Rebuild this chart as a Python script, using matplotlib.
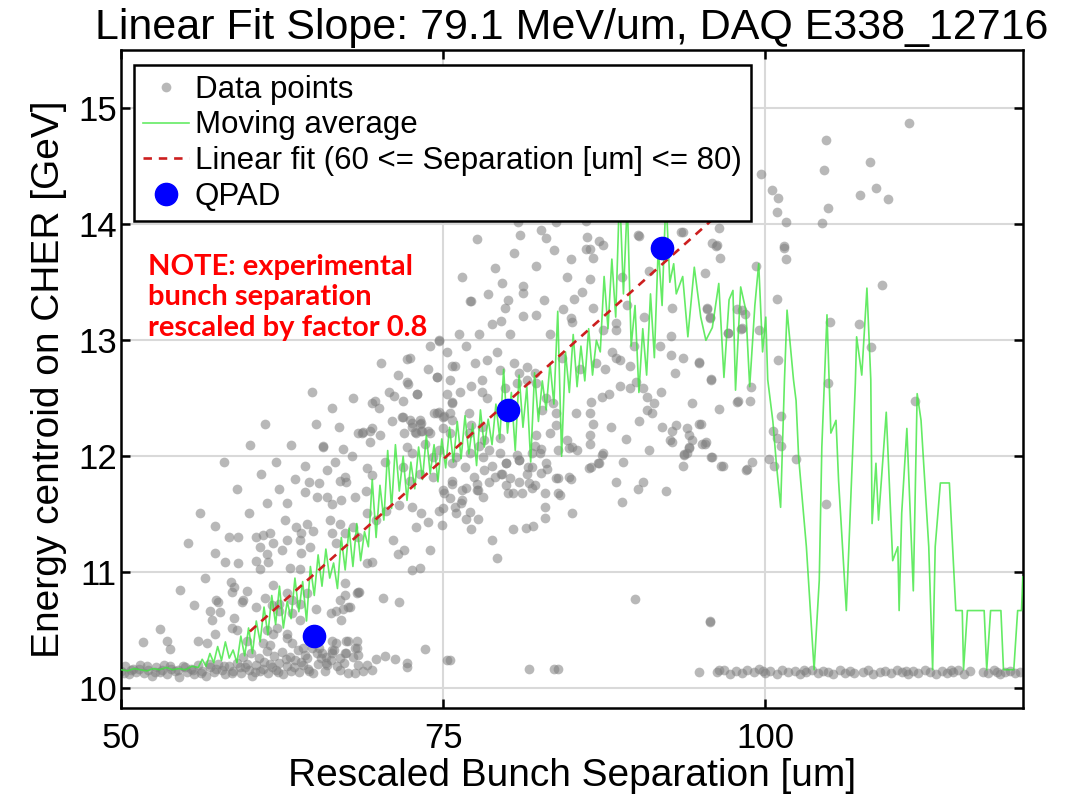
import numpy as np
import matplotlib
matplotlib.use("Agg")
import matplotlib.pyplot as plt

# ---- data (x = rescaled separation [um], y = energy [GeV]) ----

BAND_LEFT = [
    (50.0, 10.15), (50.3, 10.19), (50.6, 10.12), (50.9, 10.17), (51.2, 10.14), (51.5, 10.20),
    (51.8, 10.13), (52.1, 10.16), (52.4, 10.11), (52.7, 10.18), (53.0, 10.14), (53.3, 10.20),
    (53.6, 10.12), (53.9, 10.17), (54.2, 10.15), (54.5, 10.10), (54.8, 10.19), (55.1, 10.14),
    (55.4, 10.17), (55.7, 10.12), (56.0, 10.20), (56.3, 10.15), (56.6, 10.11), (56.9, 10.18),
    (57.2, 10.14), (57.5, 10.21), (57.8, 10.16), (58.1, 10.12), (58.4, 10.19), (58.7, 10.15),
    (59.0, 10.22), (59.3, 10.13), (59.6, 10.18), (59.9, 10.16), (60.2, 10.11), (60.5, 10.20),
    (60.8, 10.15), (61.1, 10.23), (61.4, 10.13), (61.7, 10.18), (62.0, 10.16), (62.3, 10.22),
    (62.6, 10.12), (62.9, 10.19), (63.2, 10.15), (63.5, 10.24), (63.8, 10.14), (64.1, 10.20),
    (64.5, 10.17), (64.9, 10.13), (65.3, 10.21), (65.8, 10.15), (66.3, 10.24), (66.8, 10.19),
    (67.3, 10.22), (68.0, 10.27), (68.8, 10.15), (69.5, 10.16),
    (50.2, 10.13), (50.8, 10.16), (51.4, 10.17), (52.0, 10.19), (52.6, 10.14), (53.2, 10.16),
    (53.8, 10.19), (54.4, 10.16), (55.0, 10.18), (55.6, 10.16), (56.2, 10.13), (56.8, 10.21),
    (57.4, 10.17), (58.0, 10.19), (58.6, 10.13), (59.2, 10.18), (59.8, 10.21), (60.4, 10.14),
    (61.0, 10.17), (61.6, 10.21), (62.2, 10.14), (62.8, 10.25), (63.4, 10.18), (64.0, 10.23),
    (64.6, 10.15), (65.5, 10.26), (66.0, 10.20), (67.0, 10.26), (68.4, 10.29), (69.8, 10.25),
    (70.5, 10.28), (71.3, 10.25),
    (59.5, 10.27), (60.1, 10.30), (60.7, 10.26), (61.3, 10.32), (61.9, 10.28), (62.5, 10.31),
    (63.1, 10.27), (63.7, 10.33), (64.3, 10.29), (64.8, 10.35), (65.6, 10.30), (66.5, 10.33),
    (67.4, 10.30), (68.2, 10.35),
]

RISE_LOW = [
    (53.0, 10.51), (51.7, 10.40), (53.6, 10.41), (53.8, 10.34), (55.7, 10.72), (56.0, 10.41),
    (56.7, 10.39), (57.3, 10.47), (59.0, 10.50), (59.8, 10.41), (61.3, 10.50), (61.8, 10.47),
    (61.0, 10.39), (62.9, 10.47), (63.3, 10.39), (64.1, 10.35), (65.4, 10.35), (66.4, 10.41),
    (67.5, 10.41), (68.3, 10.41), (66.4, 10.30), (67.5, 10.30), (65.9, 10.22), (73.6, 10.34),
    (72.2, 10.22), (72.2, 10.18), (67.6, 10.13), (68.4, 10.20), (69.1, 10.20), (75.3, 10.24),
    (57.4, 10.76), (57.7, 10.66), (56.9, 10.67), (57.1, 10.59), (58.6, 10.83), (58.8, 10.87),
    (59.5, 10.76), (59.8, 10.84), (57.5, 10.74), (58.5, 10.92), (59.4, 10.74), (58.8, 10.61),
    (58.6, 10.52), (61.8, 10.89), (62.3, 10.73), (63.3, 10.65), (63.9, 10.59), (62.9, 10.82),
    (63.3, 10.76), (61.2, 10.78), (61.7, 10.72), (62.3, 10.67), (60.5, 10.70), (62.9, 10.43),
    (62.1, 10.52), (61.6, 10.37), (63.9, 10.73), (64.4, 10.82), (65.1, 10.68), (66.3, 10.65),
    (67.1, 10.59), (67.2, 10.68), (67.4, 10.80), (67.8, 10.70), (68.3, 10.82), (68.5, 10.83),
    (70.3, 10.78), (71.6, 10.74), (67.4, 10.91), (67.0, 10.76), (67.6, 10.70), (66.7, 10.67),
    (67.6, 10.41), (68.3, 10.35), (66.7, 10.39), (66.4, 10.33), (65.9, 10.27), (65.2, 10.30),
    (64.4, 10.26), (67.0, 10.16), (68.2, 10.13),
]

RISE_MID = [
    (58.1, 11.09), (59.1, 11.08), (60.5, 11.10), (61.3, 11.16), (61.4, 11.09), (63.1, 11.04),
    (63.9, 11.03), (60.8, 11.03), (57.3, 11.17), (58.4, 11.30), (59.1, 11.30), (60.5, 11.30),
    (61.0, 11.32), (61.6, 11.34), (60.8, 11.22), (61.8, 11.25), (62.5, 11.19), (62.9, 11.28),
    (63.9, 11.28), (64.7, 11.22), (64.0, 11.17), (62.7, 11.45), (63.6, 11.39), (64.0, 11.34),
    (64.4, 11.42), (64.9, 11.36), (56.1, 11.51), (59.9, 11.51), (61.3, 11.60), (62.9, 11.60),
    (65.2, 11.65), (66.0, 11.65), (66.4, 11.59), (67.1, 11.62), (64.3, 11.69), (65.4, 11.77),
    (64.6, 11.78), (67.0, 11.79), (67.5, 11.78), (67.4, 11.82), (69.1, 11.90), (69.5, 11.84),
    (64.3, 11.92), (66.0, 11.88), (66.6, 11.95), (65.7, 12.08), (67.2, 12.06), (67.9, 12.00),
    (68.7, 12.20), (69.3, 12.22), (70.1, 12.18), (66.4, 12.42), (65.1, 12.28), (69.5, 12.46),
    (71.0, 12.30), (71.8, 12.34), (72.6, 12.25), (73.2, 12.28), (73.8, 12.22), (74.5, 12.37),
    (75.0, 12.34), (67.0, 11.42), (67.4, 11.34), (68.0, 11.39), (68.4, 11.30), (66.2, 11.45),
    (66.4, 11.34), (66.7, 11.25), (69.1, 11.51), (69.8, 11.45), (70.6, 11.53), (71.6, 11.58),
    (72.6, 11.56), (73.3, 11.51), (72.9, 11.39), (73.8, 11.43), (74.7, 11.53), (71.1, 11.28),
    (71.5, 11.16), (72.0, 11.19), (72.6, 11.02), (73.2, 11.04), (74.0, 11.19), (69.1, 11.08),
    (69.5, 11.09), (68.4, 10.83), (74.7, 12.99), (75.3, 12.90), (72.2, 12.84), (72.4, 12.85),
    (75.7, 12.78), (74.5, 12.68), (72.3, 12.62), (73.0, 12.54), (71.2, 12.52), (69.7, 12.48),
    (70.0, 12.42), (71.9, 12.34), (72.6, 12.29), (73.3, 12.29), (74.3, 12.37), (75.1, 12.35),
    (75.7, 12.47), (75.7, 12.31), (69.5, 12.24), (68.4, 12.20), (68.8, 12.21), (72.8, 12.21),
    (73.3, 12.22), (74.0, 12.20), (75.0, 12.24), (75.5, 12.20), (65.7, 12.09), (69.3, 12.12),
    (62.0, 11.95), (63.2, 12.10), (64.8, 12.55), (66.9, 12.25), (68.0, 12.50), (63.5, 11.80),
    (62.3, 11.72), (60.9, 11.85), (59.0, 11.72), (58.0, 11.95), (57.3, 11.40), (56.5, 10.95),
    (55.2, 11.25), (54.6, 10.85), (60.0, 12.10), (61.2, 12.28), (68.2, 11.65), (69.0, 11.70),
    (70.5, 11.95), (70.8, 12.55), (71.5, 12.70), (70.2, 12.80), (73.8, 12.75), (74.0, 12.95),
]

RISE_UPPER = [
    (77.6, 13.87), (81.0, 13.91), (83.0, 13.88), (83.6, 13.78), (86.2, 13.89), (87.1, 13.86),
    (86.4, 13.79), (86.6, 13.71), (80.5, 13.75), (82.2, 13.64), (84.6, 13.55), (86.4, 13.53),
    (77.2, 13.34), (79.6, 13.49), (81.2, 13.47), (81.2, 13.41), (80.0, 13.35), (79.8, 13.28),
    (85.2, 13.36), (84.3, 13.27), (86.6, 13.28), (82.2, 13.22), (81.2, 13.21), (78.8, 13.14),
    (79.5, 13.17), (84.9, 13.19), (85.0, 13.16), (90.1, 13.91), (93.6, 13.93), (96.3, 13.82),
    (95.9, 13.84), (96.5, 13.71), (95.3, 13.58), (92.8, 13.28), (95.5, 13.28), (95.7, 13.19),
    (98.2, 13.26), (98.1, 13.10), (97.1, 13.06), (88.4, 13.15), (88.4, 13.09), (87.4, 13.09),
    (92.7, 13.04), (88.1, 12.90), (88.7, 12.83), (89.5, 12.78), (88.4, 12.85), (92.7, 12.87),
    (93.6, 12.85), (93.0, 12.72), (94.9, 12.80), (95.8, 12.67), (96.4, 12.41), (97.8, 12.47),
    (94.3, 12.46), (90.8, 12.40), (91.2, 12.37), (91.4, 12.46), (92.0, 12.25), (92.8, 12.22),
    (93.1, 12.27), (92.6, 12.14), (93.9, 12.24), (94.9, 12.28), (94.1, 12.18), (94.3, 12.14),
    (94.1, 12.07), (95.4, 12.12), (93.7, 12.01), (93.6, 11.92), (93.9, 12.03), (95.8, 11.99),
    (96.6, 11.92), (89.5, 12.59), (90.8, 12.51), (90.0, 12.64), (88.7, 12.61), (90.5, 12.59),
    (91.9, 12.55), (86.5, 12.47), (87.3, 12.51), (87.9, 12.54), (85.3, 12.37), (86.4, 12.37),
    (86.6, 12.28), (86.4, 12.18), (86.4, 12.11), (87.3, 12.01), (87.1, 11.94), (85.0, 12.08),
    (85.4, 12.05), (86.5, 11.91), (83.8, 12.27), (83.3, 12.20), (84.6, 12.14), (83.9, 12.05),
    (84.8, 12.07), (82.7, 12.40), (83.0, 12.50), (83.5, 12.46), (83.8, 12.37), (82.2, 12.18),
    (82.1, 12.09), (81.9, 12.03), (82.5, 12.03), (81.6, 11.91), (81.5, 12.77), (81.5, 12.66),
    (82.1, 12.72), (82.2, 12.63), (80.9, 12.72), (79.4, 12.74), (79.8, 12.59), (80.5, 12.80),
    (80.7, 12.63), (78.4, 12.83), (78.0, 12.66), (77.2, 12.61), (78.0, 12.55), (78.4, 12.50),
    (75.9, 12.78), (75.5, 12.66), (75.3, 12.54), (75.7, 12.46), (74.7, 12.38), (75.5, 12.37),
    (74.5, 12.68), (74.7, 13.00), (72.2, 12.64), (73.0, 12.54), (71.9, 12.48), (77.0, 12.37),
    (77.2, 12.27), (78.0, 12.25), (77.0, 12.20), (78.2, 12.14), (79.4, 12.16), (78.6, 12.05),
    (77.8, 12.09), (77.1, 12.03), (78.1, 11.99), (79.4, 12.03), (79.9, 11.94), (79.6, 11.85),
    (79.0, 11.82), (80.2, 11.81), (80.9, 11.78), (80.4, 11.68), (78.1, 11.65), (77.4, 11.82),
    (76.7, 11.91), (75.7, 11.94), (76.0, 11.99), (74.7, 12.05), (74.2, 11.99), (73.6, 12.11),
    (72.9, 12.20), (73.4, 12.22), (73.2, 12.31), (72.4, 12.31), (72.0, 12.20), (72.2, 12.08),
    (72.6, 12.03), (71.9, 11.91), (72.4, 11.79), (73.2, 11.85), (74.2, 11.82), (75.0, 11.71),
    (75.7, 11.79), (76.8, 11.73), (77.6, 11.71), (81.5, 11.85), (80.9, 11.97), (81.9, 11.91),
    (83.0, 11.94), (83.8, 11.81), (84.8, 11.82), (83.9, 11.68), (82.9, 11.68), (81.9, 11.73),
    (83.8, 14.02), (86.1, 14.03), (77.1, 13.34), (87.4, 13.82), (86.1, 13.79), (90.2, 13.90),
    (93.5, 13.93), (96.4, 13.97), (96.2, 13.81),
    (76.2, 13.05), (76.8, 12.95), (77.8, 13.05), (78.5, 13.40), (76.5, 13.55), (79.0, 13.62),
    (80.8, 14.02), (82.6, 13.95), (84.9, 13.70), (85.8, 13.42), (88.9, 13.55), (89.3, 13.30),
    (91.0, 13.60), (90.6, 13.20), (91.8, 12.95), (89.8, 12.95), (87.6, 12.75), (84.2, 12.85),
    (85.6, 12.75), (86.9, 12.80), (83.3, 13.05), (82.8, 13.35), (80.2, 13.05), (79.2, 12.90),
    (77.5, 12.80), (76.3, 12.55), (88.0, 12.25), (89.2, 12.15), (90.2, 12.30), (91.0, 12.05),
    (89.0, 11.95),
]

LOWER_MID = [
    (75.5, 10.24), (81.7, 10.17), (83.9, 10.17), (83.6, 10.17), (89.9, 10.77), (95.7, 10.57),
    (94.9, 10.14), (78.8, 11.28), (79.2, 11.12), (77.2, 11.37), (76.8, 11.46), (77.7, 11.46),
    (77.1, 11.52), (76.0, 11.51), (75.9, 11.56), (76.5, 11.62), (75.0, 11.55), (74.9, 11.41),
    (75.5, 11.64), (80.4, 11.37), (81.4, 11.38), (82.0, 11.40), (82.9, 11.47), (82.9, 11.56),
    (85.0, 11.51), (88.9, 11.61), (88.4, 11.78), (90.1, 11.72), (90.5, 11.78), (92.3, 11.70),
    (92.8, 12.12), (94.1, 12.08), (95.1, 12.11), (93.7, 12.02), (95.9, 11.99), (96.7, 11.92),
    (98.5, 11.88), (99.0, 11.95), (100.3, 11.98), (100.7, 11.92), (83.9, 11.81), (84.9, 11.80),
    (84.1, 11.67), (82.6, 11.86), (83.1, 11.89), (86.3, 11.90), (87.0, 11.94), (87.4, 12.03),
    (78.2, 11.88), (78.8, 11.92), (79.9, 11.94), (79.5, 11.85), (79.9, 11.75), (78.6, 11.78),
    (80.0, 11.68), (81.1, 11.68), (81.7, 11.77), (82.1, 11.75), (80.9, 11.97), (80.7, 12.01),
    (82.6, 12.06), (77.6, 11.76), (77.7, 11.71), (76.5, 11.71), (75.7, 11.76), (75.1, 11.68),
    (76.4, 11.60),
]

TAIL_UPPER = [
    (111.2, 14.87), (104.7, 14.73), (104.6, 14.47), (104.9, 14.14), (104.4, 14.01), (108.1, 14.54),
    (107.4, 14.25), (108.6, 14.31), (109.5, 14.22), (99.7, 14.43), (100.5, 14.30), (101.0, 14.23),
    (100.9, 14.11), (101.6, 14.02), (101.5, 13.81), (101.6, 13.70), (109.1, 13.48), (99.3, 13.64),
    (100.9, 13.36), (105.0, 13.16), (107.3, 13.14), (108.2, 12.94), (101.0, 12.83), (104.9, 12.63),
    (95.5, 13.27), (95.7, 13.20), (97.8, 13.27), (98.4, 13.23), (98.2, 13.11), (97.1, 13.06),
    (99.5, 13.09), (95.8, 12.66), (94.9, 12.81), (98.9, 12.60), (97.9, 12.48), (98.8, 12.48),
    (95.0, 12.28), (95.3, 12.11), (98.6, 11.89), (102.4, 11.98), (101.2, 12.35), (104.7, 11.59),
    (111.6, 12.48), (100.6, 12.22), (100.9, 12.16), (101.2, 12.09), (95.7, 10.58), (101.5, 13.80),
]

BAND_RIGHT = [
    (96.3, 10.14), (96.8, 10.16), (97.3, 10.12), (97.7, 10.15), (98.2, 10.13), (98.6, 10.16),
    (99.1, 10.14), (99.5, 10.17), (100.0, 10.13), (100.4, 10.15), (100.9, 10.12), (101.3, 10.16),
    (101.8, 10.14), (102.3, 10.15), (102.7, 10.12), (103.2, 10.14), (103.6, 10.16), (104.1, 10.13),
    (104.5, 10.15), (104.9, 10.14), (105.3, 10.12), (105.8, 10.16), (106.2, 10.13), (106.6, 10.15),
    (107.6, 10.14), (108.0, 10.16), (108.4, 10.12), (108.9, 10.14), (109.3, 10.15), (109.8, 10.13),
    (110.2, 10.16), (110.6, 10.14), (111.1, 10.12), (111.5, 10.15), (111.9, 10.13), (112.4, 10.16),
    (112.8, 10.14), (113.3, 10.12), (113.7, 10.15), (114.1, 10.13), (114.6, 10.14), (115.0, 10.16),
    (115.4, 10.12), (115.9, 10.15), (116.9, 10.14), (117.3, 10.13), (117.8, 10.16), (118.2, 10.12),
    (118.6, 10.14), (119.0, 10.15), (119.4, 10.13), (119.8, 10.14), (96.4, 10.16), (99.8, 10.15),
    (103.0, 10.16), (106.9, 10.13), (110.9, 10.15), (114.4, 10.16), (118.0, 10.14),
]

MOVING_AVG = [
    (50.0, 10.16), (50.5, 10.15), (51.0, 10.17), (51.5, 10.16), (52.0, 10.15), (52.5, 10.17),
    (53.0, 10.16), (53.5, 10.18), (54.0, 10.16), (54.5, 10.17), (55.0, 10.16), (55.5, 10.19),
    (56.0, 10.18), (56.3, 10.25), (56.6, 10.19), (56.9, 10.30), (57.2, 10.22), (57.5, 10.36),
    (57.8, 10.24), (58.1, 10.40), (58.4, 10.26), (58.7, 10.33), (59.0, 10.22), (59.3, 10.45),
    (59.6, 10.28), (59.9, 10.52), (60.2, 10.30), (60.5, 10.58), (60.8, 10.40), (61.1, 10.70),
    (61.4, 10.46), (61.7, 10.80), (62.0, 10.55), (62.3, 10.88), (62.6, 10.52), (62.9, 10.75),
    (63.2, 10.60), (63.5, 10.95), (63.8, 10.66), (64.1, 10.92), (64.4, 10.58), (64.7, 11.05),
    (65.0, 10.80), (65.3, 11.15), (65.6, 10.88), (65.9, 11.20), (66.2, 10.95), (66.5, 11.08),
    (66.8, 10.86), (67.1, 11.30), (67.4, 11.02), (67.7, 11.38), (68.0, 11.05), (68.3, 11.42),
    (68.6, 11.10), (68.9, 11.35), (69.2, 11.22), (69.5, 11.80), (69.8, 11.30), (70.1, 11.75),
    (70.4, 11.45), (70.7, 12.05), (71.0, 11.55), (71.3, 12.10), (71.6, 11.70), (71.9, 12.00),
    (72.2, 11.62), (72.5, 11.95), (72.8, 11.72), (73.1, 12.08), (73.4, 11.80), (73.7, 12.18),
    (74.0, 11.85), (74.3, 12.10), (74.6, 11.78), (74.9, 12.15), (75.2, 11.90), (75.5, 12.25),
    (75.8, 11.95), (76.1, 12.30), (76.4, 11.98), (76.7, 12.35), (77.0, 12.02), (77.3, 12.28),
    (77.6, 11.92), (77.9, 12.40), (78.2, 12.08), (78.5, 12.32), (78.8, 12.10), (79.1, 12.45),
    (79.4, 12.15), (79.7, 12.75), (80.0, 12.20), (80.3, 12.55), (80.6, 12.05), (80.9, 12.70),
    (81.2, 12.25), (81.5, 12.60), (81.8, 11.95), (82.1, 12.72), (82.4, 12.30), (82.7, 12.65),
    (83.0, 12.40), (83.3, 12.80), (83.6, 12.45), (83.9, 13.25), (84.2, 12.00), (84.5, 12.90),
    (84.8, 12.55), (85.1, 13.05), (85.4, 12.60), (85.7, 12.95), (86.0, 12.65), (86.3, 13.10),
    (86.6, 12.70), (86.9, 13.00), (87.2, 12.90), (87.5, 13.55), (87.8, 13.10), (88.1, 13.70),
    (88.4, 13.20), (88.7, 14.30), (89.0, 13.40), (89.3, 14.20), (89.6, 12.95), (89.9, 13.30),
    (90.2, 12.55), (90.5, 13.10), (90.8, 12.70), (91.1, 13.40), (91.4, 12.85), (91.7, 13.80),
    (92.0, 13.30), (92.3, 14.25), (92.6, 13.50), (92.9, 13.66), (93.1, 13.40), (93.6, 13.55),
    (94.0, 13.03), (94.5, 13.63), (95.0, 13.20), (95.4, 13.00), (95.9, 13.11), (96.4, 13.49),
    (96.8, 12.68), (97.2, 13.35), (97.5, 13.43), (97.7, 12.57), (98.1, 13.46), (98.5, 13.26),
    (98.8, 12.60), (99.2, 13.30), (99.5, 13.66), (99.8, 12.90), (100.05, 13.20), (100.2, 12.66),
    (100.6, 12.30), (100.9, 11.90), (101.2, 11.56), (101.5, 12.66), (101.7, 13.26), (102.2, 12.66),
    (102.4, 12.48), (102.6, 11.99), (103.2, 11.22), (103.8, 10.16), (104.2, 10.93), (104.4, 12.08),
    (104.8, 13.22), (105.1, 12.20), (105.5, 12.31), (105.7, 11.79), (106.3, 10.67), (106.5, 11.22),
    (107.0, 12.63), (107.1, 13.03), (107.5, 12.70), (107.9, 13.45), (108.2, 12.66), (108.3, 11.42),
    (108.6, 11.94), (108.8, 11.45), (109.4, 12.38), (109.9, 11.10), (110.3, 11.22), (110.4, 10.67),
    (110.6, 11.51), (111.0, 12.24), (111.5, 10.84), (111.8, 12.54), (112.1, 12.31), (112.7, 11.22),
    (113.0, 10.16), (113.2, 11.22), (113.6, 11.77), (114.3, 11.77), (114.8, 10.67), (115.3, 10.67),
    (115.4, 10.16), (115.7, 10.67), (117.0, 10.67), (117.2, 10.16), (117.5, 10.67), (118.3, 10.67),
    (118.5, 10.16), (119.3, 10.16), (119.6, 10.67), (119.9, 10.67), (120.0, 10.96),
]

FIT_X = [60.0, 96.5]
FIT_Y = [10.49, 14.10]

QPAD_X = [65.0, 80.0, 92.0]
QPAD_Y = [10.45, 12.40, 13.80]

XTICKS = [50, 75, 100]
YTICKS = [10, 11, 12, 13, 14, 15]

TITLE = "Linear Fit Slope: 79.1 MeV/um, DAQ E338_12716"
NOTE = "NOTE: experimental\nbunch separation\nrescaled by factor 0.8"

# ---- plotting ----
plt.rcParams.update({
    "font.family": ["Liberation Sans", "DejaVu Sans"],
    "axes.linewidth": 1.8,
})

fig = plt.figure(figsize=(10.71, 8.05), dpi=100)
ax = fig.add_axes([0.113, 0.1205, 0.842, 0.817])

pts = np.array(BAND_LEFT + RISE_LOW + RISE_MID + RISE_UPPER + LOWER_MID + TAIL_UPPER + BAND_RIGHT)
ma = np.array(MOVING_AVG)

ax.plot(pts[:, 0], pts[:, 1], "o", ls="", color="#7f7f7f", alpha=0.55, ms=7.0,
        mec="none", zorder=2, label="Data points")
ax.plot(ma[:, 0], ma[:, 1], color="#3ee63e", alpha=0.8, lw=1.2, zorder=3,
        label="Moving average")
ax.plot(FIT_X, FIT_Y, ls=(0, (3.2, 2.6)), color="#cc1f1f", lw=1.9, zorder=4,
        label="Linear fit (60 <= Separation [um] <= 80)")
ax.plot(QPAD_X, QPAD_Y, "o", ls="", color="#0000ff", ms=16, zorder=5, label="QPAD")

ax.set_xlim(50, 120)
ax.set_ylim(9.83, 15.5)
ax.set_xticks(XTICKS)
ax.set_yticks(YTICKS)
ax.grid(True, color="#d9d9d9", lw=1.5)
ax.set_axisbelow(True)
ax.tick_params(direction="in", length=6.5, width=1.8, top=True, right=True, labelsize=25)
ax.tick_params(axis="x", pad=10)
ax.tick_params(axis="y", pad=3)

ax.set_xlabel("Rescaled Bunch Separation [um]", fontsize=28, labelpad=2)
ax.set_ylabel("Energy centroid on CHER [GeV]", fontsize=28, labelpad=8)
ax.set_title(TITLE, fontsize=31, pad=8)

ax.text(0.030, 0.690, NOTE, transform=ax.transAxes, ha="left", va="top",
        color="#ff0000", fontsize=21, fontweight="bold", family=["Lato", "DejaVu Sans"],
        linespacing=1.2, zorder=6)

leg = ax.legend(loc="upper left", bbox_to_anchor=(0.0144, 0.977), borderaxespad=0,
                fontsize=22.5, frameon=True, fancybox=False, framealpha=1,
                edgecolor="black", handlelength=1.45, handletextpad=0.2,
                labelspacing=0.18, borderpad=0.3)
leg.get_frame().set_linewidth(1.8)
leg.set_zorder(10)

fig.savefig("out.png", dpi=100)
